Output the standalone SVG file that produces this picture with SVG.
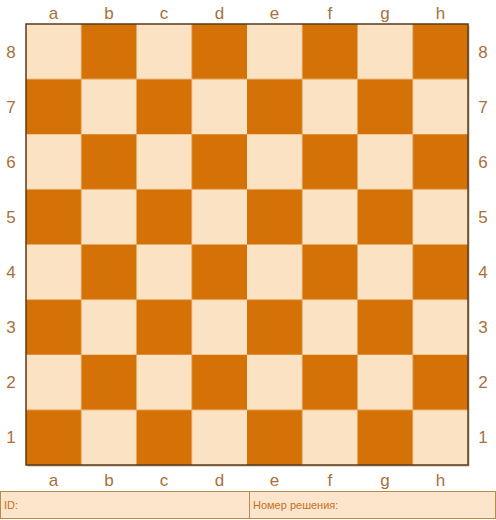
<svg xmlns="http://www.w3.org/2000/svg" width="496" height="520" viewBox="0 0 496 520">
<style>
.l{fill:#FBE2C3}.d{fill:#D47207}
.lab{font-family:"Liberation Sans",Arial,sans-serif;font-size:17px;fill:#A8703E;text-anchor:middle}
.ft{font-family:"Liberation Sans",Arial,sans-serif;font-size:11px;fill:#C8701A}
</style>
<rect width="496" height="520" fill="#fff"/>
<defs>
<pattern id="cb" x="26" y="24" width="110.5" height="110.25" patternUnits="userSpaceOnUse">
<rect width="110.5" height="110.25" class="l"/>
<rect x="55.25" y="0" width="55.25" height="55.125" class="d"/>
<rect x="0" y="55.125" width="55.25" height="55.125" class="d"/>
</pattern>
</defs>
<g id="board">
<rect x="27.5" y="25.5" width="442" height="441" fill="#8a6a4a" opacity="0.5"/>
<rect x="26" y="24" width="442" height="441" fill="url(#cb)" stroke="#5A3A1C" stroke-width="1.5"/>
</g>
<g id="labels">
<text class="lab" x="53.6" y="19">a</text><text class="lab" x="108.9" y="19">b</text><text class="lab" x="164.1" y="19">c</text><text class="lab" x="219.4" y="19">d</text><text class="lab" x="274.6" y="19">e</text><text class="lab" x="329.9" y="19">f</text><text class="lab" x="385.1" y="19">g</text><text class="lab" x="440.4" y="19">h</text>
<text class="lab" x="53.6" y="486">a</text><text class="lab" x="108.9" y="486">b</text><text class="lab" x="164.1" y="486">c</text><text class="lab" x="219.4" y="486">d</text><text class="lab" x="274.6" y="486">e</text><text class="lab" x="329.9" y="486">f</text><text class="lab" x="385.1" y="486">g</text><text class="lab" x="440.4" y="486">h</text>
<text class="lab" x="11" y="57.5">8</text><text class="lab" x="11" y="112.6">7</text><text class="lab" x="11" y="167.8">6</text><text class="lab" x="11" y="222.9">5</text><text class="lab" x="11" y="278">4</text><text class="lab" x="11" y="333.1">3</text><text class="lab" x="11" y="388.3">2</text><text class="lab" x="11" y="443.4">1</text>
<text class="lab" x="483" y="57.5">8</text><text class="lab" x="483" y="112.6">7</text><text class="lab" x="483" y="167.8">6</text><text class="lab" x="483" y="222.9">5</text><text class="lab" x="483" y="278">4</text><text class="lab" x="483" y="333.1">3</text><text class="lab" x="483" y="388.3">2</text><text class="lab" x="483" y="443.4">1</text>
</g>
<g id="footer">
<rect x="0.5" y="491.5" width="495" height="27" fill="#FDE5CB" stroke="#B98A4E" stroke-width="1"/>
<line x1="249.5" y1="491.5" x2="249.5" y2="518.5" stroke="#B98A4E" stroke-width="1"/>
<text class="ft" x="4" y="509">ID:</text>
<text class="ft" x="253" y="509">Номер решения:</text>
</g>
</svg>
